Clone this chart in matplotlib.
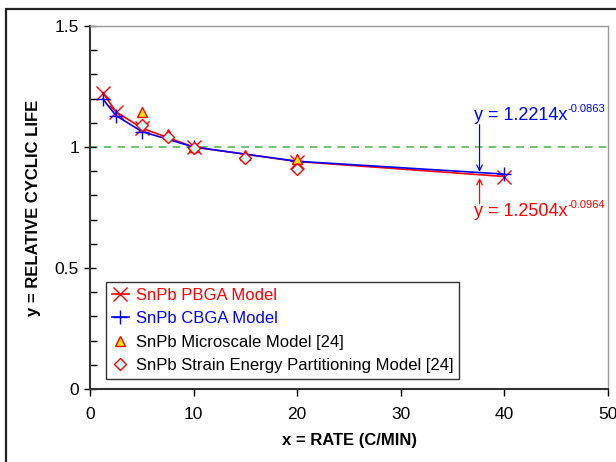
import matplotlib.pyplot as plt
from matplotlib.patches import Rectangle

plt.rcParams['font.family'] = ['Liberation Sans', 'DejaVu Sans']

# data
rate = [1.25, 2.5, 5, 10, 20, 40]
pbga = [1.224, 1.146, 1.078, 1.0, 0.940, 0.878]
cbga = [1.198, 1.130, 1.064, 1.0, 0.941, 0.888]

micro_x = [5, 7.5, 10, 15, 20]
micro_y = [1.146, 1.052, 1.0, 0.968, 0.950]

sep_x = [5, 7.5, 10, 15, 20]
sep_y = [1.090, 1.042, 0.995, 0.953, 0.910]

fig = plt.figure(figsize=(6.16, 4.62), dpi=100)
ax = fig.add_axes([90/616, 1 - 389/462, 518/616, 363/462])

# outer chart border (cut off at right/bottom like the original)
fig.patches.append(Rectangle((6/616, -0.05), 1.1, 1 - 9/462 + 0.05,
                             transform=fig.transFigure, fill=False,
                             edgecolor='#222222', linewidth=1.6))

ax.axhline(1.0, color='#4daf4a', linestyle=(0, (5, 4)), linewidth=1.1, zorder=1)

ax.plot(rate, pbga, color='red', linewidth=1.2, marker='x', markersize=10,
        markeredgewidth=1.0, label='SnPb PBGA Model', zorder=3)
ax.plot(rate, cbga, color='blue', linewidth=1.2, marker='+', markersize=10,
        markeredgewidth=1.0, label='SnPb CBGA Model', zorder=3)
ax.plot(micro_x, micro_y, linestyle='none', marker='^', markersize=7,
        markerfacecolor='#ffe600', markeredgecolor='red', markeredgewidth=1.0,
        label='SnPb Microscale Model [24]', zorder=4)
ax.plot(sep_x, sep_y, linestyle='none', marker='D', markersize=6,
        markerfacecolor='#ccffff', markeredgecolor='red', markeredgewidth=1.0,
        label='SnPb Strain Energy Partitioning Model [24]', zorder=4)


# fit equations with arrows (base text + small exponent)
def fit_label(y, base, expo, color):
    t = ax.text(37.1, y, base, color=color, fontsize=13, va='center', ha='left')
    ax.annotate(expo, xy=(1, 1), xycoords=t, xytext=(0, 2),
                textcoords='offset points', color=color, fontsize=8,
                ha='left', va='top')


fit_label(1.13, 'y = 1.2214x', '-0.0863', 'blue')
ax.annotate('', xy=(37.6, 0.897), xytext=(37.6, 1.092),
            arrowprops=dict(arrowstyle='->', color='blue', lw=0.9, shrinkA=0, shrinkB=0))
fit_label(0.735, 'y = 1.2504x', '-0.0964', 'red')
ax.annotate('', xy=(37.6, 0.872), xytext=(37.6, 0.765),
            arrowprops=dict(arrowstyle='->', color='red', lw=0.9, shrinkA=0, shrinkB=0))

ax.set_xlim(0, 50)
ax.set_ylim(0, 1.5)
ax.set_xticks([0, 10, 20, 30, 40, 50])
ax.set_yticks([0, 0.5, 1, 1.5])
ax.set_yticklabels(['0', '0.5', '1', '1.5'])
ax.set_yticks([i / 10 for i in range(16)], minor=True)
ax.tick_params(axis='y', which='major', direction='inout', length=8, width=1.0,
               labelsize=12.5, pad=4)
ax.tick_params(axis='y', which='minor', direction='in', length=5, width=1.0)
ax.tick_params(axis='x', which='major', direction='out', length=5, width=1.0,
               labelsize=12.5, pad=8)

for side in ['left', 'bottom']:
    ax.spines[side].set_color('#333333')
    ax.spines[side].set_linewidth(1.5)
for side in ['top', 'right']:
    ax.spines[side].set_color('#999999')
    ax.spines[side].set_linewidth(1.0)

ax.set_xlabel('x = RATE (C/MIN)', fontsize=12, fontweight='bold', labelpad=8)
ax.set_ylabel('y = RELATIVE CYCLIC LIFE', fontsize=12, fontweight='bold', labelpad=10)

leg = ax.legend(loc='lower left', bbox_to_anchor=(8/518, 2/363), fontsize=12,
                frameon=True, fancybox=False, edgecolor='black', borderpad=0.35,
                handlelength=1.0, handletextpad=0.4, labelspacing=0.5)
leg.get_frame().set_linewidth(1.0)
for t, c in zip(leg.get_texts(), ['red', 'blue', 'black', 'black']):
    t.set_color(c)

fig.savefig('out.png', dpi=100)
